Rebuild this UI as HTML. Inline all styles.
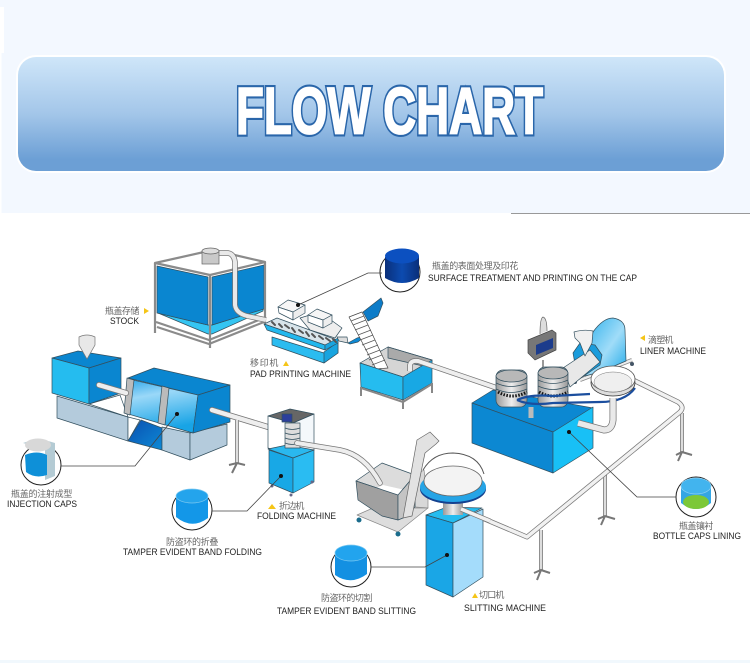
<!DOCTYPE html>
<html><head><meta charset="utf-8"><style>
html,body{margin:0;padding:0;background:#fff}
svg{display:block}
text{font-family:"Liberation Sans","Noto Sans CJK SC",sans-serif}
.c{font-size:9px;fill:#666;letter-spacing:.6px}
.e{font-size:9px;fill:#222}
.o{stroke:#33505f;stroke-width:.7;stroke-linejoin:round}
</style></head><body>
<svg xmlns="http://www.w3.org/2000/svg" width="750" height="663" viewBox="0 0 750 663">
<defs>
<linearGradient id="p" x1="0" y1="0" x2="0" y2="1"><stop offset="0" stop-color="#cfe6f9"/><stop offset=".5" stop-color="#a3c6e9"/><stop offset=".9" stop-color="#6c9fd5"/><stop offset="1" stop-color="#6c9fd5"/></linearGradient>
<linearGradient id="b1" x1="0" y1="0" x2=".25" y2="1"><stop offset="0" stop-color="#2fa8ea"/><stop offset=".35" stop-color="#9ad8f8"/><stop offset="1" stop-color="#18a4e6"/></linearGradient>
<linearGradient id="b3" x1="0" y1="0" x2="1" y2="1"><stop offset="0" stop-color="#2cb0ec"/><stop offset=".55" stop-color="#a0dcf8"/><stop offset="1" stop-color="#1ba8e8"/></linearGradient>
<linearGradient id="b2" x1="0" y1="0" x2="1" y2="1"><stop offset="0" stop-color="#0a4fb0"/><stop offset="1" stop-color="#0d8ad6"/></linearGradient>
<linearGradient id="cap" x1="0" y1="0" x2="1" y2="0"><stop offset="0" stop-color="#0a2f7a"/><stop offset=".5" stop-color="#0c4bb0"/><stop offset="1" stop-color="#0a2f7a"/></linearGradient>
<linearGradient id="cy" x1="0" y1="0" x2="1" y2="0"><stop offset="0" stop-color="#999"/><stop offset=".5" stop-color="#eee"/><stop offset="1" stop-color="#999"/></linearGradient>
</defs>
<rect width="750" height="213" fill="#f3f8ff"/>
<rect x="0" y="7" width="4" height="46" fill="#fff"/>
<rect x="0" y="53" width="1.500" height="160" fill="#fff"/>
<rect x="511" y="213" width="239" height="1" fill="#999"/>
<rect y="660" width="750" height="3" fill="#f1f8fd"/>
<rect x="16" y="55" width="710" height="118" rx="20" fill="#fff"/>
<rect x="18" y="57" width="706" height="114" rx="18" fill="url(#p)"/>
<text x="236" y="133.500" font-size="66" font-weight="bold" fill="#fff" stroke="#2a66aa" stroke-width="6" textLength="307" lengthAdjust="spacingAndGlyphs">FLOW CHART</text>
<text x="236" y="133.500" font-size="66" font-weight="bold" fill="#fff" stroke="#fff" stroke-width="1.800" textLength="307" lengthAdjust="spacingAndGlyphs">FLOW CHART</text>

<!-- stock -->
<g class="o">
<polygon points="158,313 208,325 212,325 263,309 263,311 212,334 208,334" fill="#35c5f2"/>
<polygon points="157,266 208,277 208,325 157,313" fill="#0a86d0"/>
<polygon points="212,277 264,265 264,309 212,325" fill="#0a86d0"/>
<g fill="none" stroke="#8b8b8b" stroke-width="2.200">
<path d="M155 263L213 250L265 262L210 275Z"/>
<path d="M155 263V333M210 275V348M265 262V323"/>
<path d="M156 322L209 340L264 318M157 327L209 344L264 322"/>
</g>
</g>
<path d="M219 253H228Q234 254 235 262V305Q236 313 247 316L266 320" fill="none" stroke="#777" stroke-width="5.500"/>
<path d="M219 253H228Q234 254 235 262V305Q236 313 247 316L266 320" fill="none" stroke="#e9e9e9" stroke-width="4"/>
<rect x="202" y="251" width="17" height="13" fill="#c9c9c9" stroke="#666" stroke-width=".7"/>
<ellipse cx="210.500" cy="251" rx="8.500" ry="3" fill="#ddd" stroke="#666" stroke-width=".7"/>

<!-- pad printing -->
<g class="o">
<polygon points="272,337 324,353 338,342 338,353 324,363 272,345" fill="#2bbcf0"/>
<polygon points="324,352 338,342 338,353 324,363" fill="#18a4df"/>
<polygon points="264,324 277,318 337,340 325,345" fill="#d8e4ea"/>
<polygon points="264,324 325,345 325,350 267,330" fill="#22b8ee"/>
<polygon points="325,345 338,338 338,343 325,350" fill="#18a4df"/>
<polygon points="300,318 320,312 342,328 335,338 310,330" fill="#eee"/>
<polygon points="278,307 288,300 305,305 293,312" fill="#f6f6f6"/>
<polygon points="278,307 293,312 293,320 279,313" fill="#fff"/>
<polygon points="293,312 305,305 305,313 293,320" fill="#eee"/>
<polygon points="308,315 317,309 332,315 323,320" fill="#f6f6f6"/>
<polygon points="308,315 323,320 323,328 308,322" fill="#fff"/>
<polygon points="323,320 332,315 332,323 323,328" fill="#eee"/>
<polygon points="337,337 347,337 348,343 339,341" fill="#ddd"/>
<polygon points="348,343 357,338 365,336 358,342 350,344" fill="#0d8ad6"/>
</g>
<g stroke="#555" stroke-width="2" stroke-linecap="round">
<path d="M272 322l3 3M279 324l3 3M285 325l4 3M292 328l3 4M299 330l4 3M306 332l3 4M312 334l3 3M319 336l4 3M326 338l4 3M333 339l3 3"/>
</g>

<!-- surface cap -->
<circle cx="400" cy="272" r="20" fill="#fff" stroke="#222" stroke-width="1"/>
<path d="M385 257V278Q402 288 419 278V256Z" fill="url(#cap)"/>
<ellipse cx="402" cy="256" rx="17" ry="7.500" fill="#0c50c0"/>

<!-- conveyor + bin -->
<g class="o">
<polygon points="363,312 381,298 383,303 378,316 368,321" fill="#0d7cc8"/>
<polygon points="360,363 388,347 432,360 403,377" fill="#d5d5d5"/>
<polygon points="388,347 432,360 432,368 388,358" fill="#aaa"/>
<polygon points="349,317 362,312 388,368 376,369" fill="#fff" stroke="#444"/>
<g stroke="#555" fill="none"><path d="M351 321l13-5M353 325l13-5M355 330l13-5M358 335l13-5M360 340l13-5M362 345l13-5M365 350l13-5M367 355l13-5M369 360l13-5M372 365l13-5"/></g>
<polygon points="360,363 403,377 403,400 361,387" fill="#25bcef"/>
<polygon points="403,377 432,360 432,383 403,400" fill="#18a8e4"/>
</g>
<g fill="none" stroke="#888" stroke-width="2"><path d="M361 387V396M403 400V409M432 383V393M361 388L403 402L432 384"/></g>
<path d="M410 371V365Q411 360 418 361L497 388" fill="none" stroke="#777" stroke-width="5.500"/>
<path d="M410 371V365Q411 360 418 361L497 388" fill="none" stroke="#eee" stroke-width="4"/>

<!-- long pipe + legs (behind liner) -->
<g stroke="#777" stroke-width="4" fill="none"><path d="M541 530V570M605 473V516M682 413V452"/></g>
<g stroke="#ddd" stroke-width="2.500" fill="none"><path d="M541 530V570M605 473V516M682 413V452"/></g>
<g stroke="#777" stroke-width="2" fill="none"><path d="M534 573L541 570L550 573M537 580L541 570M598 519L605 516L615 519M601 525L605 516M676 455L682 452L692 455M678 461L682 452"/></g>
<path d="M625 376L678 402Q685 407 680 412L527 537L461 509" fill="none" stroke="#777" stroke-width="5" stroke-linejoin="round"/>
<path d="M625 376L678 402Q685 407 680 412L527 537L461 509" fill="none" stroke="#f1f1f1" stroke-width="3.500" stroke-linejoin="round"/>

<!-- liner machine -->
<path d="M580 380L632 360" stroke="#888" stroke-width="4"/>
<path d="M580 380L632 360" stroke="#eee" stroke-width="2.500"/>
<circle cx="575" cy="382" r="2" fill="#456"/><circle cx="632" cy="364" r="2" fill="#456"/>
<g class="o">
<path d="M590 345L593 332Q603 318 613 318Q625 320 625 330L626 361L600 372L585 376Z" fill="url(#b3)"/>
<path d="M573 353L580 343L595 345L602 355L600 365L578 380Z" fill="#1a9cdc"/>
<polygon points="472,403 493,390 593,408 553,432" fill="#0c88d2"/>
<polygon points="472,403 553,432 553,473 472,443" fill="#0c88d2"/>
<polygon points="553,432 593,407 593,448 553,473" fill="#18c0f6"/>
<polygon points="563,368 590,350 600,362 570,387" fill="#e8e8e8"/>
<path d="M574 332Q584 329 593 331L592 343L585 356L580 343L575 338Z" fill="#f0f0f0"/>
</g>
<path d="M540 334Q540 318 543 317Q547 318 547 331" fill="#ddd" stroke="#666" stroke-width=".7"/>
<polygon points="528,340 552,330 556,333 556,350 535,360 528,353" fill="#777" stroke="#444" stroke-width=".7"/>
<polygon points="536,345 553,338 553,348 536,355" fill="#1c3c8c"/>
<path d="M543 360V380" stroke="#999" stroke-width="2"/>
<g class="o">
<rect x="496" y="370" width="31" height="37" rx="7" fill="url(#cy)"/>
<ellipse cx="511.500" cy="376" rx="15.500" ry="6" fill="#b8b8b8"/>
<path d="M496 383q15 7 31 0M496 389q15 7 31 0" fill="none"/>
<rect x="538" y="367" width="30" height="40" rx="7" fill="url(#cy)"/>
<ellipse cx="553" cy="373" rx="15" ry="6" fill="#b8b8b8"/>
<path d="M538 380q15 7 30 0M538 386q15 7 30 0" fill="none"/>
</g>
<path d="M498 392q14 8 29 0M539 392q14 8 29 0" fill="none" stroke="#111" stroke-width="3" stroke-dasharray="1.500 1.500"/>
<path d="M517 400Q530 394 553 396L590 394M517 400Q530 406 553 403L600 402Q625 402 635 388" fill="none" stroke="#1b4e9e" stroke-width="2.200"/>
<path d="M613 398V420Q612 430 604 430L578 423" fill="none" stroke="#777" stroke-width="7"/>
<path d="M613 398V420Q612 430 604 430L578 423" fill="none" stroke="#e9e9e9" stroke-width="5.500"/>
<ellipse cx="613" cy="383" rx="22" ry="13" fill="#ddd" stroke="#333" stroke-width=".8"/>
<ellipse cx="613" cy="379" rx="22" ry="13" fill="#fff" stroke="#555" stroke-width=".8"/>
<ellipse cx="613" cy="382" rx="19" ry="10" fill="#efefef" stroke="#777" stroke-width=".5"/>
<path d="M531 407V418" stroke="#bbb" stroke-width="5"/>

<!-- injection -->
<g class="o">
<polygon points="57,396 128,417 128,441 57,418" fill="#b4cbdc"/>
<polygon points="89,404 120,395 128,417" fill="#fff"/>
<polygon points="128,417 140,420 128,441" fill="#fff"/>
<polygon points="52,358 78,351 121,358 89,368" fill="#0a86d0"/>
<polygon points="52,358 89,368 89,404 52,393" fill="#25bcef"/>
<polygon points="89,368 121,358 121,393 89,404" fill="#0a86d0"/>
<polygon points="141,420 162,428 162,450 128,441" fill="url(#b2)"/>
<polygon points="162,427 190,433 190,460 162,450" fill="#b4cbdc"/>
<polygon points="190,433 227,424 227,445 190,460" fill="#b4cbdc"/>
<polygon points="128,378 154,368 230,385 198,395" fill="#0a86d0"/>
<polygon points="133,380 198,395 193,433 125,413" fill="url(#b1)"/>
<polygon points="198,395 230,385 230,422 193,433" fill="#0a86d0"/>
<polygon points="127,378 134,380 130,415 124,413" fill="#bbb"/>
<polygon points="162,386 169,388 165,425 158,423" fill="#bbb"/>
</g>
<path d="M99 385L126 393M212 410L268 427" stroke="#777" stroke-width="6" stroke-linecap="round"/>
<path d="M99 385L126 393M212 410L268 427" stroke="#eee" stroke-width="4.500" stroke-linecap="round"/>
<path d="M79 337Q87 333 95 337V345L87 359L79 345Z" fill="#e8e8e8" stroke="#777" stroke-width=".7"/>
<path d="M237 420V463" stroke="#777" stroke-width="4"/>
<path d="M237 420V463" stroke="#ddd" stroke-width="2.500"/>
<path d="M229 465L237 463L245 465M232 473L237 463" fill="none" stroke="#777" stroke-width="2"/>

<!-- injection cap -->
<circle cx="41" cy="465" r="20" fill="#fff" stroke="#222" stroke-width="1"/>
<path d="M23 443Q38 437 55 443L55 476L45 480V445L30 445Z" fill="#b4cbd4"/>
<path d="M25 455Q37 450 47 455V475Q35 479 26 472Z" fill="#0e90d8"/>
<ellipse cx="38" cy="445" rx="13" ry="6.500" fill="#d8d8d8"/>

<!-- folding -->
<g class="o">
<polygon points="268,416 290,409 314,414 293,423" fill="#666"/>
<polygon points="268,416 293,423 293,457 268,448" fill="#fff"/>
<polygon points="293,423 314,414 314,450 293,457" fill="#f4f8fb"/>
<polygon points="268,449 287,445 314,450 293,458" fill="#2ab8ee"/>
<polygon points="269,450 293,458 293,493 269,483" fill="#18a8e6"/>
<polygon points="293,458 314,450 314,482 293,493" fill="#2abcf2"/>
<rect x="285" y="423" width="15" height="25" fill="#ddd"/>
<path d="M285 428q7 3 15 0M285 433q7 3 15 0M285 438q7 3 15 0M285 443q7 3 15 0" fill="none"/>
<rect x="282" y="414" width="10" height="8" fill="#2c3f9c"/>
</g>
<g fill="#668"><circle cx="272" cy="486" r="1.500"/><circle cx="291" cy="495" r="1.500"/><circle cx="312" cy="482" r="1.500"/></g>

<!-- folding cap -->
<circle cx="192" cy="510" r="20" fill="#fff" stroke="#222" stroke-width="1"/>
<path d="M176 495V517Q192 530 208 518V495Z" fill="#1397e8"/>
<ellipse cx="192" cy="496" rx="16" ry="7" fill="#24a4ec" stroke="#7cc8f0" stroke-width=".7"/>

<!-- gray hopper + elevator -->
<g class="o">
<polygon points="357,515 373,508 428,508 398,532" fill="#ddd" stroke="#888"/>
<polygon points="415,507 428,508 428,499 424,470 415,475" fill="#d8d8d8" stroke="#888"/>
<polygon points="356,481 382,463 415,475 398,495" fill="#dcdcdc"/>
<polygon points="383,485 405,490 398,495 377,488" fill="#fff" stroke="none"/>
</g>
<path d="M297 443L340 450Q365 455 380 483" fill="none" stroke="#777" stroke-width="5.500" stroke-linecap="round"/>
<path d="M297 443L340 450Q365 455 380 483" fill="none" stroke="#eee" stroke-width="4" stroke-linecap="round"/>
<g class="o">
<polygon points="356,481 398,495 398,520 382,516 358,500" fill="#a0a0a0"/>
<polygon points="398,495 415,475 415,507 403,518 398,520" fill="#c4c4c4"/>
<polygon points="403,518 417,440 430,432 439,441 436,444 425,453 412,516" fill="#e2e2e2" stroke="#666"/>
</g>
<circle cx="359" cy="520" r="2.500" fill="#1a6c8c"/><circle cx="398" cy="534" r="2.500" fill="#1a6c8c"/>

<!-- slitting -->
<g class="o">
<polygon points="426,515 447,507 482,508 453,523" fill="#25bcef"/>
<polygon points="426,515 453,523 453,597 426,585" fill="#1aa6e6"/>
<polygon points="453,523 483,509 483,577 453,597" fill="#a4dcfb"/>
</g>
<rect x="443" y="500" width="20" height="15" fill="url(#cy)"/>
<ellipse cx="453" cy="489" rx="33" ry="15" fill="#14418f"/>
<ellipse cx="453" cy="487" rx="33" ry="15" fill="#25a4e6"/>
<ellipse cx="453" cy="481" rx="29" ry="15" fill="#f3f3f3" stroke="#666" stroke-width=".8"/>
<path d="M423 470Q433 453 453 453Q478 454 484 474" fill="none" stroke="#555" stroke-width="1"/>
<path d="M461 509L490 521" stroke="#777" stroke-width="5"/>
<path d="M461 509L490 521" stroke="#f1f1f1" stroke-width="3.500"/>

<!-- slitting cap -->
<circle cx="351" cy="567" r="20" fill="#fff" stroke="#222" stroke-width="1"/>
<path d="M335 552V575Q351 586 367 574V552Z" fill="#1390e2"/>
<ellipse cx="351" cy="553" rx="16" ry="8" fill="#22a4ee" stroke="#7cc8f0" stroke-width=".7"/>

<!-- lining cap -->
<circle cx="696" cy="497" r="20" fill="#fff" stroke="#222" stroke-width="1"/>
<path d="M681 484V503Q696 515 711 503V484Z" fill="#34a6e4"/>
<ellipse cx="696" cy="502" rx="13" ry="7" fill="#7cc838"/>
<ellipse cx="696" cy="486" rx="15" ry="8" fill="#42b4ee" stroke="#8cd0f4" stroke-width=".7"/>

<!-- leader lines -->
<g fill="none" stroke="#444" stroke-width=".8">
<path d="M298 305L368 273H382"/>
<path d="M61 466H135L177 414"/>
<path d="M212 511H247L281 476"/>
<path d="M371 567H425L447 555"/>
<path d="M569 432L637 497H676"/>
</g>

<!-- dots -->
<g fill="#111"><circle cx="298" cy="305" r="2"/><circle cx="177" cy="414" r="2"/><circle cx="281" cy="476" r="2"/><circle cx="447" cy="555" r="2"/><circle cx="569" cy="432" r="2"/></g>

<!-- labels -->
<text class="c" x="432" y="269" textLength="87">瓶盖的表面处理及印花</text>
<text class="e" x="428" y="281" textLength="209" lengthAdjust="spacingAndGlyphs">SURFACE TREATMENT AND PRINTING ON THE CAP</text>
<text class="c" x="105" y="314" textLength="35">瓶盖存储</text>
<polygon points="144,308 149,311 144,314" fill="#f5c518"/>
<text class="e" x="110" y="324" textLength="29" lengthAdjust="spacingAndGlyphs">STOCK</text>
<text class="c" x="250" y="366" textLength="29">移印机</text>
<polygon points="283,366 286,361 289,366" fill="#f5c518"/>
<text class="e" x="250" y="377" textLength="101" lengthAdjust="spacingAndGlyphs">PAD PRINTING MACHINE</text>
<polygon points="645,341 640,338 645,335" fill="#f5c518"/>
<text class="c" x="648" y="343" textLength="26">滴塑机</text>
<text class="e" x="640" y="354" textLength="66" lengthAdjust="spacingAndGlyphs">LINER MACHINE</text>
<text class="c" x="11" y="497" textLength="62">瓶盖的注射成型</text>
<text class="e" x="7" y="507" textLength="70" lengthAdjust="spacingAndGlyphs">INJECTION CAPS</text>
<polygon points="268,509 272,504 276,509" fill="#f5c518"/>
<text class="c" x="279" y="509" textLength="26">折边机</text>
<text class="e" x="257" y="519" textLength="79" lengthAdjust="spacingAndGlyphs">FOLDING MACHINE</text>
<text class="c" x="166" y="545" textLength="53">防盗环的折叠</text>
<text class="e" x="123" y="555" textLength="139" lengthAdjust="spacingAndGlyphs">TAMPER EVIDENT BAND FOLDING</text>
<text class="c" x="321" y="601" textLength="52">防盗环的切割</text>
<text class="e" x="277" y="614" textLength="139" lengthAdjust="spacingAndGlyphs">TAMPER EVIDENT BAND SLITTING</text>
<polygon points="472,598 475,593 478,598" fill="#f5c518"/>
<text class="c" x="479" y="598" textLength="26">切口机</text>
<text class="e" x="464" y="611" textLength="82" lengthAdjust="spacingAndGlyphs">SLITTING  MACHINE</text>
<text class="c" x="679" y="529" textLength="35">瓶盖镶衬</text>
<text class="e" x="653" y="539" textLength="88" lengthAdjust="spacingAndGlyphs">BOTTLE CAPS LINING</text>
</svg>
</body></html>
